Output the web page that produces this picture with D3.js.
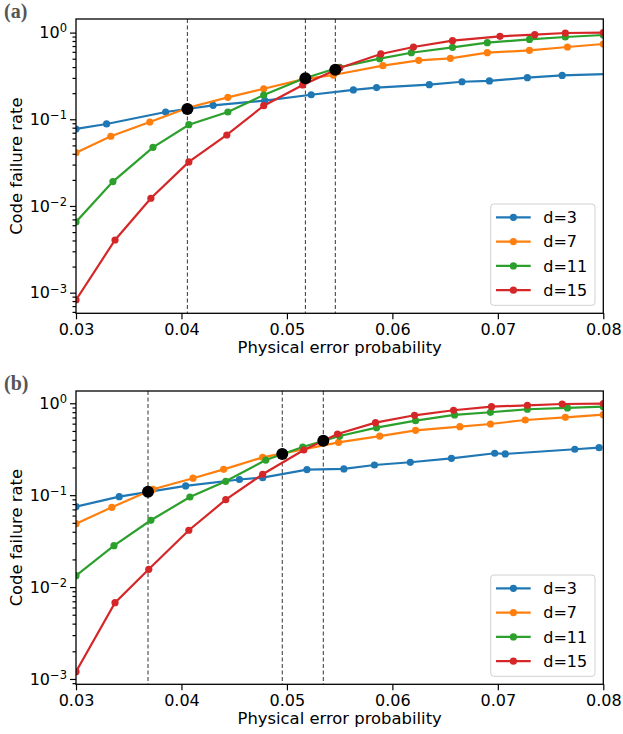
<!DOCTYPE html>
<html>
<head>
<meta charset="utf-8">
<script src="https://cdn.jsdelivr.net/npm/d3@7"></script>
<style>
  body { margin: 0; background: #fff; }
  svg text { font-family: "DejaVu Sans", sans-serif; }
</style>
</head>
<body>
<div id="chart"></div>
<script>
// tick values and labels
const xTicks = [0.03, 0.04, 0.05, 0.06, 0.07, 0.08];
const yMajor = [1e-3, 1e-2, 1e-1, 1];
const legendLabels = ["d=3", "d=7", "d=11", "d=15"];
const colors = ["#1f77b4", "#ff7f0e", "#2ca02c", "#d62728"];

// panel (a): [error probability, failure rate]
const aD3 = [[0.03, 0.0773], [0.0329, 0.0883], [0.0385, 0.1214], [0.043, 0.145], [0.0479, 0.164], [0.0523, 0.192], [0.0563, 0.218], [0.0585, 0.232], [0.0635, 0.251], [0.0666, 0.271], [0.0692, 0.277], [0.0728, 0.302], [0.0761, 0.321], [0.0805, 0.334]];
const aD7 = [[0.03, 0.0412], [0.0333, 0.0637], [0.037, 0.093], [0.0407, 0.137], [0.0444, 0.179], [0.0478, 0.225], [0.0516, 0.29], [0.0544, 0.324], [0.0591, 0.415], [0.0625, 0.479], [0.0655, 0.505], [0.069, 0.586], [0.073, 0.625], [0.0766, 0.682], [0.08, 0.739]];
const aD11 = [[0.03, 0.00654], [0.0335, 0.0191], [0.0373, 0.0475], [0.0407, 0.0866], [0.0444, 0.1214], [0.0478, 0.1906], [0.0516, 0.295], [0.055, 0.398], [0.0588, 0.5], [0.0618, 0.586], [0.0657, 0.676], [0.069, 0.765], [0.073, 0.835], [0.0764, 0.89], [0.08, 0.938]];
const aD15 = [[0.03, 0.000824], [0.0337, 0.00405], [0.0371, 0.01227], [0.0407, 0.0322], [0.0443, 0.0659], [0.0478, 0.1435], [0.0515, 0.249], [0.055, 0.39], [0.0589, 0.567], [0.062, 0.682], [0.0657, 0.807], [0.0702, 0.906], [0.0735, 0.946], [0.0764, 0.989], [0.08, 1.0]];
const aCross = [[0.04056, 0.1315], [0.05175, 0.297], [0.05459, 0.373]];

// panel (b)
const bD3 = [[0.03, 0.075], [0.0341, 0.0964], [0.0404, 0.126], [0.0455, 0.148], [0.0477, 0.155], [0.0519, 0.19], [0.0554, 0.193], [0.0583, 0.213], [0.0617, 0.228], [0.0656, 0.252], [0.0697, 0.286], [0.0707, 0.281], [0.0773, 0.316], [0.0796, 0.329]];
const bD7 = [[0.03, 0.049], [0.0334, 0.0738], [0.0373, 0.116], [0.0411, 0.153], [0.044, 0.191], [0.0477, 0.258], [0.0549, 0.376], [0.0588, 0.44], [0.0622, 0.508], [0.0664, 0.557], [0.0693, 0.595], [0.0726, 0.658], [0.0764, 0.703], [0.08, 0.751]];
const bD11 = [[0.03, 0.0133], [0.0336, 0.0282], [0.0371, 0.0533], [0.0408, 0.0955], [0.0442, 0.1416], [0.048, 0.241], [0.0515, 0.334], [0.055, 0.44], [0.0585, 0.543], [0.0622, 0.647], [0.0659, 0.746], [0.0693, 0.798], [0.0728, 0.861], [0.0766, 0.889], [0.08, 0.918]];
const bD15 = [[0.03, 0.0012], [0.0337, 0.00676], [0.0369, 0.0156], [0.0407, 0.0415], [0.0442, 0.0893], [0.0477, 0.169], [0.0516, 0.31], [0.0548, 0.463], [0.0584, 0.615], [0.0621, 0.74], [0.0658, 0.839], [0.0694, 0.918], [0.0728, 0.951], [0.0761, 0.982], [0.08, 0.99]];
const bCross = [[0.03683, 0.109], [0.04956, 0.281], [0.05345, 0.392]];

const svg = d3.select("#chart").append("svg")
  .attr("width", 623).attr("height", 734);

function chart(id, tag, top, bottom, yDomain, series, cross) {
  const left = 76, right = 603.3;
  const x = d3.scaleLinear().domain([0.03, 0.08]).range([left, right]);
  const y = d3.scaleLog().domain(yDomain).range([bottom, top]);
  const g = svg.append("g");

  g.append("clipPath").attr("id", id)
    .append("rect").attr("x", left).attr("y", top)
    .attr("width", right - left).attr("height", bottom - top);

  // panel tag
  svg.append("text").attr("x", 4).attr("y", top - 1.5)
    .style("font-family", "'Liberation Serif', serif")
    .attr("font-weight", "bold").attr("font-size", 20).attr("fill", "#555")
    .text(tag);

  const plot = g.append("g").attr("clip-path", `url(#${id})`);

  // dashed threshold lines
  plot.selectAll("line.vl").data(cross).enter().append("line")
    .attr("x1", d => x(d[0])).attr("x2", d => x(d[0]))
    .attr("y1", top).attr("y2", bottom)
    .attr("stroke", "#333").attr("stroke-width", 1)
    .attr("stroke-dasharray", "4,2.5");

  const line = d3.line().x(d => x(d[0])).y(d => y(d[1]));
  series.forEach((s, i) => {
    plot.append("path").datum(s).attr("d", line)
      .attr("fill", "none").attr("stroke", colors[i]).attr("stroke-width", 2.2);
    plot.selectAll(null).data(s).enter().append("circle")
      .attr("cx", d => x(d[0])).attr("cy", d => y(d[1])).attr("r", 3.6)
      .attr("fill", colors[i]);
  });

  plot.selectAll("circle.cross").data(cross).enter().append("circle")
    .attr("cx", d => x(d[0])).attr("cy", d => y(d[1])).attr("r", 6)
    .attr("fill", "#000");

  // axes
  const xa = g.append("g").attr("transform", `translate(0,${bottom})`)
    .call(d3.axisBottom(x).tickValues(xTicks).tickFormat(d3.format(".2f"))
      .tickSize(6).tickPadding(4).tickSizeOuter(0));
  const ya = g.append("g").attr("transform", `translate(${left},0)`)
    .call(d3.axisLeft(y).tickValues(yMajor).tickSize(6).tickPadding(3).tickSizeOuter(0));
  const minor = [];
  for (let e = -4; e <= 0; e++) for (let m = 2; m <= 9; m++) {
    const v = m * Math.pow(10, e);
    if (v > yDomain[0] && v < yDomain[1]) minor.push(v);
  }
  const ym = g.append("g").attr("transform", `translate(${left},0)`)
    .call(d3.axisLeft(y).tickValues(minor).tickFormat("").tickSize(3.5).tickSizeOuter(0));

  [xa, ya, ym].forEach(a => {
    a.select(".domain").remove();
    a.selectAll(".tick line").attr("stroke", "#000").attr("stroke-width", 1.2);
    a.selectAll("text").attr("font-size", 16).attr("fill", "#000")
      .style("font-family", "'DejaVu Sans', sans-serif");
  });
  ya.selectAll(".tick text").each(function(d) {
    const t = d3.select(this);
    const ex = Math.round(Math.log10(d));
    t.text("10");
    t.append("tspan").attr("dy", "-0.5em").attr("font-size", 11.5)
      .text(String(ex).replace("-", "\u2212"));
  });

  g.append("rect").attr("x", left).attr("y", top)
    .attr("width", right - left).attr("height", bottom - top)
    .attr("fill", "none").attr("stroke", "#000").attr("stroke-width", 1.3);

  // axis titles
  g.append("text").attr("x", (left + right) / 2).attr("y", bottom + 40)
    .attr("text-anchor", "middle").attr("font-size", 16.4)
    .text("Physical error probability");
  g.append("text")
    .attr("transform", `translate(22,${(top + bottom) / 2}) rotate(-90)`)
    .attr("text-anchor", "middle").attr("font-size", 16.4)
    .text("Code failure rate");

  // legend
  const lg = g.append("g").attr("transform", `translate(490.7,${bottom - 109.3})`);
  lg.append("rect").attr("width", 104.3).attr("height", 101.3).attr("rx", 3)
    .attr("fill", "#fff").attr("fill-opacity", 0.8)
    .attr("stroke", "#d0d0d0").attr("stroke-width", 1);
  legendLabels.forEach((lab, i) => {
    const yy = 13.3 + i * 24.3;
    lg.append("line").attr("x1", 5.3).attr("x2", 40).attr("y1", yy).attr("y2", yy)
      .attr("stroke", colors[i]).attr("stroke-width", 2.2);
    lg.append("circle").attr("cx", 22.7).attr("cy", yy).attr("r", 3.6).attr("fill", colors[i]);
    lg.append("text").attr("x", 52.6).attr("y", yy).attr("dy", "0.35em")
      .attr("font-size", 16).text(lab);
  });
}

chart("clipA", "(a)", 19, 313.3, [5.78e-4, 1.435], [aD3, aD7, aD11, aD15], aCross);
chart("clipB", "(b)", 391, 684.3, [8.75e-4, 1.36], [bD3, bD7, bD11, bD15], bCross);
</script>
</body>
</html>
